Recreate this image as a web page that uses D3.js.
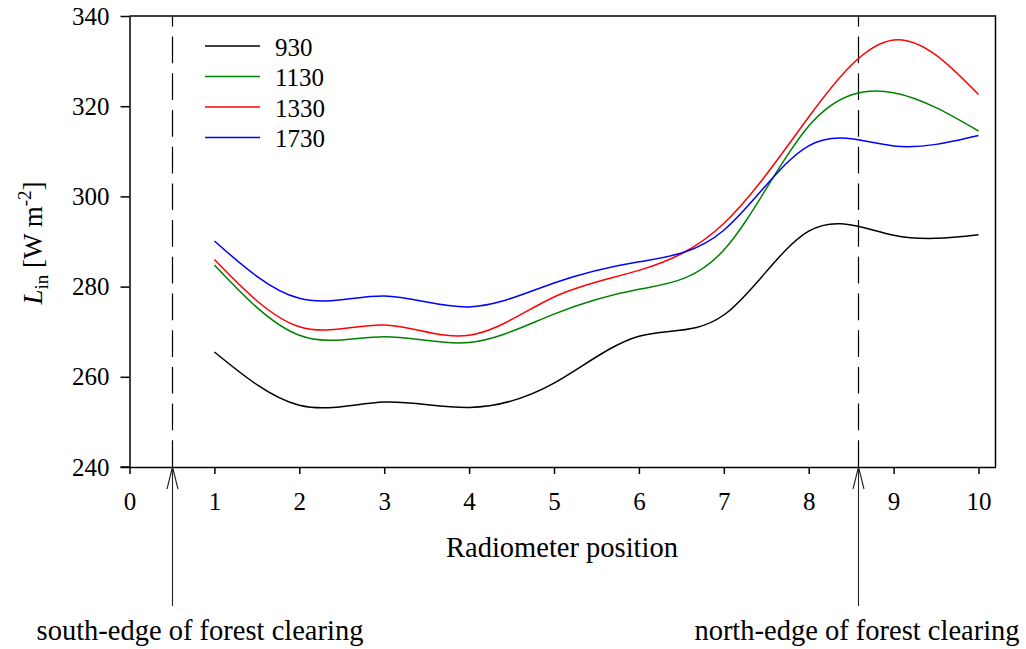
<!DOCTYPE html>
<html>
<head>
<meta charset="utf-8">
<script src="https://cdn.jsdelivr.net/npm/d3@7"></script>
<style>
  html, body { margin: 0; padding: 0; background: #fff; }
  svg { display: block; font-family: "Liberation Serif", "Times New Roman", serif; }
</style>
</head>
<body>
<svg id="chart" width="1026" height="649"></svg>
<script>
// Radiometer positions along the transect
const positions = [1, 2, 3, 4, 5, 6, 7, 8, 9, 10];
// Incoming longwave radiation (W m-2) at each position, by time of day
const seriesNames = ["930", "1130", "1330", "1730"];
const series930  = [265.5, 253.7, 254.4, 253.2, 258.6, 269.0, 273.7, 292.3, 291.4, 291.5];
const series1130 = [284.8, 269.2, 268.9, 267.6, 273.9, 279.4, 288.1, 315.6, 323.0, 314.5];
const series1330 = [286.0, 271.1, 271.5, 269.2, 277.7, 283.6, 294.0, 317.6, 334.7, 322.6];
const series1730 = [290.1, 277.4, 277.9, 275.5, 280.8, 285.5, 292.5, 311.2, 311.2, 313.5];
const seriesColors = ["#000000", "#008000", "#ff0000", "#0000ff"];
const xTicks = [0, 1, 2, 3, 4, 5, 6, 7, 8, 9, 10];
const yTicks = [240, 260, 280, 300, 320, 340];
// Forest-clearing edges in radiometer-position units
const edgeMarks = [
  { x: 0.5,  label: "south-edge of forest clearing", labelX: 200 },
  { x: 8.58, label: "north-edge of forest clearing", labelX: 857 }
];

const allSeries = [series930, series1130, series1330, series1730];

const svg = d3.select("#chart");
const plotL = 129.5, plotR = 995.5, plotT = 16, plotB = 467;

const x = d3.scaleLinear().domain([0, 10.2]).range([plotL, plotR]);
const y = d3.scaleLinear().domain([240, 340]).range([plotB, plotT]);

// Frame (top and right sides)
svg.append("path")
  .attr("d", `M${plotL},${plotT}H${plotR}V${plotB}`)
  .attr("fill", "none").attr("stroke", "#000").attr("stroke-width", 1.5);

// Axes
const xAxis = d3.axisBottom(x).tickValues(xTicks).tickFormat(d3.format("d"))
  .tickSizeInner(7).tickSizeOuter(0).tickPadding(18);
const yAxis = d3.axisLeft(y).tickValues(yTicks).tickFormat(d3.format("d"))
  .tickSizeInner(9).tickSizeOuter(0).tickPadding(11);

const gx = svg.append("g").attr("transform", `translate(0,${plotB})`).call(xAxis);
const gy = svg.append("g").attr("transform", `translate(${plotL},0)`).call(yAxis);
[gx, gy].forEach(g => {
  g.selectAll("path, line").attr("stroke", "#000").attr("stroke-width", 1.5);
  g.selectAll("text").attr("fill", "#000")
    .style("font-family", "'Liberation Serif', serif").style("font-size", "25px");
});
// bottom axis line extends to the y tick length on the left
svg.append("line").attr("x1", plotL - 9).attr("x2", plotL)
  .attr("y1", plotB).attr("y2", plotB).attr("stroke", "#000").attr("stroke-width", 1.5);

// Edge markers: dashed verticals inside the plot, arrows below it
edgeMarks.forEach(m => {
  const ex = Math.round(x(m.x)) + 0.5;
  svg.append("line")
    .attr("x1", ex).attr("x2", ex).attr("y1", plotB).attr("y2", plotT)
    .attr("stroke", "#000").attr("stroke-width", 1.2)
    .attr("stroke-dasharray", "26.7,10");
  svg.append("line")
    .attr("x1", ex).attr("x2", ex).attr("y1", 606).attr("y2", plotB)
    .attr("stroke", "#222").attr("stroke-width", 1.1);
  svg.append("path")
    .attr("d", `M${ex - 5.5},${plotB + 22}L${ex},${plotB}L${ex + 5.5},${plotB + 22}`)
    .attr("fill", "none").attr("stroke", "#222").attr("stroke-width", 1.1);
  svg.append("text")
    .attr("x", m.labelX).attr("y", 640).attr("text-anchor", "middle")
    .style("font-size", "28.5px").attr("fill", "#000")
    .text(m.label);
});

// Series curves
const line = d3.line()
  .x((d, i) => x(positions[i]))
  .y(d => y(d))
  .curve(d3.curveNatural);

allSeries.forEach((vals, i) => {
  svg.append("path")
    .datum(vals)
    .attr("d", line)
    .attr("fill", "none")
    .attr("stroke", seriesColors[i])
    .attr("stroke-width", 1.5);
});

// Legend
const legend = svg.append("g");
seriesNames.forEach((name, i) => {
  const ly = 46 + i * 30.5;
  legend.append("line")
    .attr("x1", 205).attr("x2", 260).attr("y1", ly).attr("y2", ly)
    .attr("stroke", seriesColors[i]).attr("stroke-width", 1.5);
  legend.append("text")
    .attr("x", 275).attr("y", ly + 9.5)
    .style("font-size", "25px").attr("fill", "#000")
    .text(name);
});

// Axis titles
svg.append("text")
  .attr("x", 562).attr("y", 557).attr("text-anchor", "middle")
  .style("font-size", "28.5px").attr("fill", "#000")
  .text("Radiometer position");

const yTitle = svg.append("text")
  .attr("transform", "translate(42,243) rotate(-90)")
  .attr("text-anchor", "middle")
  .style("font-size", "27px").attr("fill", "#000");
yTitle.append("tspan").style("font-style", "italic").text("L");
yTitle.append("tspan").attr("dy", 6).style("font-size", "19px").text("in");
yTitle.append("tspan").attr("dy", -6).text(" [W m");
yTitle.append("tspan").attr("dy", -11).style("font-size", "19px").text("-2");
yTitle.append("tspan").attr("dy", 11).text("]");
</script>
</body>
</html>
